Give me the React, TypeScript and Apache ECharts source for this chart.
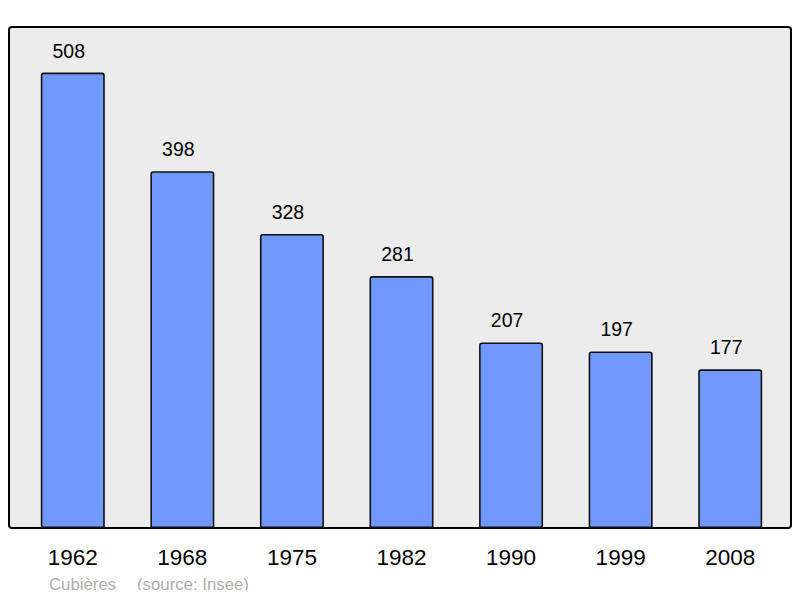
import React, { useEffect, useRef } from "react";
import * as echarts from "echarts";

const years = ["1962", "1968", "1975", "1982", "1990", "1999", "2008"];
const population = [508, 398, 328, 281, 207, 197, 177];
const footerPlace = "Cubières";
const footerSource = "(source: Insee)";

export default function App() {
  const ref = useRef<HTMLDivElement>(null);
  useEffect(() => {
    if (!ref.current) return;
    const chart = echarts.init(ref.current, null, { renderer: "svg" });
    const maxVal = Math.max(...population) * 1.1;
    chart.setOption({
      animation: false,
      textStyle: { fontFamily: "Liberation Sans" },
      graphic: [
        {
          type: "rect",
          z: -10,
          shape: { x: 9, y: 27, width: 782, height: 501, r: 3 },
          style: { fill: "#ececec", stroke: "#000", lineWidth: 2 },
          silent: true,
        },
        {
          type: "text",
          x: 49,
          y: 584,
          style: {
            text: footerPlace,
            fill: "#adadad",
            font: "16.8px 'Liberation Sans'",
            verticalAlign: "middle",
          },
        },
        {
          type: "text",
          x: 137,
          y: 584,
          style: {
            text: footerSource,
            fill: "#adadad",
            font: "16.8px 'Liberation Sans'",
            verticalAlign: "middle",
          },
        },
      ],
      grid: { left: 18, right: 15, top: 27, bottom: 70, containLabel: false },
      xAxis: {
        type: "category",
        data: years,
        axisLine: { show: false },
        axisTick: { show: false },
        axisLabel: {
          color: "#000",
          fontSize: 22.5,
          margin: 18,
          fontFamily: "Liberation Sans",
        },
      },
      yAxis: {
        type: "value",
        min: 0,
        max: maxVal,
        show: false,
        splitLine: { show: false },
      },
      series: [
        {
          type: "bar",
          data: population,
          barWidth: 64,
          itemStyle: {
            color: "#7098ff",
            borderColor: "#111",
            borderWidth: 1.6,
            borderRadius: [2, 2, 0, 0],
          },
          label: {
            show: true,
            position: "top",
            distance: 12,
            offset: [-4, 0],
            color: "#000",
            fontSize: 19.5,
            fontFamily: "Liberation Sans",
          },
        },
      ],
    });
    return () => chart.dispose();
  }, []);
  return <div ref={ref} style={{ width: 800, height: 598, margin: -8 }} />;
}
